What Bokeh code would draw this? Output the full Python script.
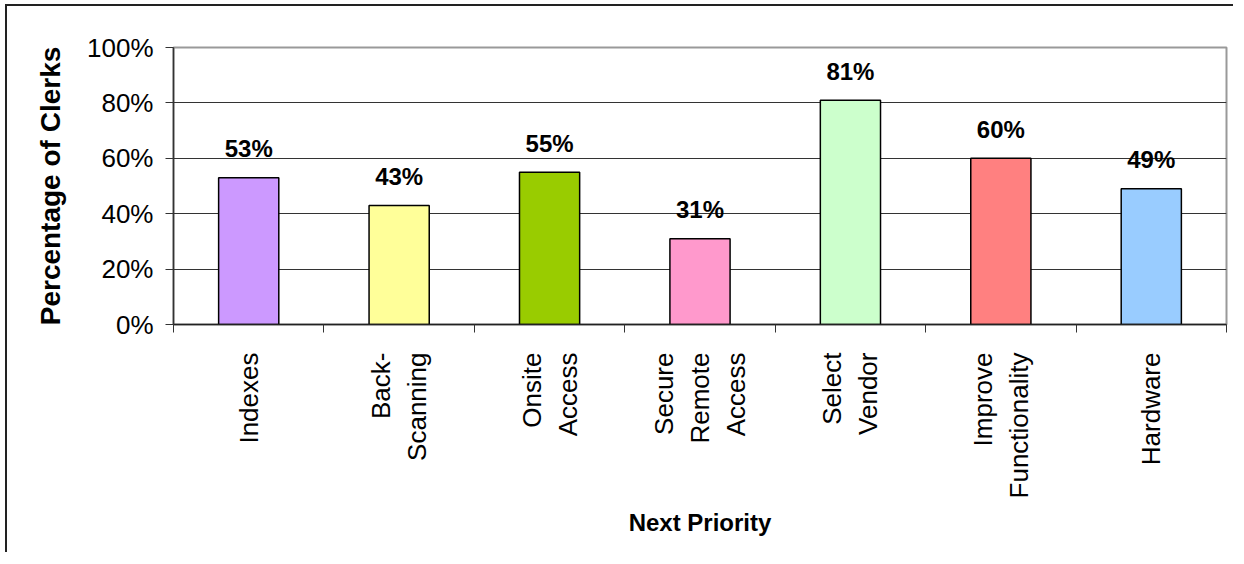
import math
from bokeh.plotting import figure
from bokeh.models import ColumnDataSource, FixedTicker, NumeralTickFormatter, Range1d
from bokeh.core.properties import value
from bokeh.embed import file_html
from bokeh.resources import INLINE

# ---- data ----
categories = ["Indexes", "Back-\nScanning", "Onsite\nAccess", "Secure\nRemote\nAccess",
              "Select\nVendor", "Improve\nFunctionality", "Hardware"]
values = [0.53, 0.43, 0.55, 0.31, 0.81, 0.60, 0.49]
bar_colors = ["#CC99FF", "#FFFF99", "#99CC00", "#FF99CC", "#CCFFCC", "#FF8080", "#99CCFF"]
y_ticks = [0.0, 0.2, 0.4, 0.6, 0.8, 1.0]
x_title = "Next Priority"
y_title = "Percentage of Clerks"

FONT = "Liberation Sans"

n = len(categories)
centers = [i + 0.5 for i in range(n)]
bounds = list(range(n + 1))

src = ColumnDataSource(dict(
    x=centers,
    top=values,
    color=bar_colors,
    label=[f"{round(v * 100)}%" for v in values],
))

p = figure(width=1228, height=548,
           x_range=Range1d(0, n), y_range=Range1d(y_ticks[0], y_ticks[-1]),
           output_backend="svg", toolbar_location=None,
           min_border_left=166, min_border_top=41, min_border_right=9, min_border_bottom=230,
           background_fill_color="white", border_fill_color="white")

p.vbar(x="x", top="top", bottom=0, width=0.4, fill_color="color",
       line_color="black", line_width=1.5, source=src)

p.text(x="x", y="top", text="label", y_offset=-29,
       text_align="center", text_baseline="alphabetic",
       text_font=value(FONT), text_font_style="bold", text_font_size="24px",
       text_color="black", source=src)

# outline of plot area
p.outline_line_color = "#999999"
p.outline_line_width = 2

# x axis
xa = p.xaxis[0]
xa.ticker = FixedTicker(ticks=centers, minor_ticks=bounds)
xa.major_label_overrides = {c: lab for c, lab in zip(centers, categories)}
xa.major_label_orientation = math.pi / 2
xa.major_tick_line_color = None
xa.major_tick_out = 0
xa.major_tick_in = 0
xa.minor_tick_out = 8
xa.minor_tick_in = 0
xa.minor_tick_line_color = "#333333"
xa.minor_tick_line_width = 1
xa.axis_line_color = "#222222"
xa.axis_line_width = 1.5
xa.major_label_standoff = 20
xa.major_label_text_font = FONT
xa.major_label_text_font_size = "26px"
xa.major_label_text_color = "black"
xa.axis_label = x_title
xa.axis_label_text_font = FONT
xa.axis_label_text_font_style = "bold"
xa.axis_label_text_font_size = "24px"
xa.axis_label_text_color = "black"
xa.axis_label_standoff = 8

# y axis
ya = p.yaxis[0]
ya.ticker = FixedTicker(ticks=y_ticks)
ya.formatter = NumeralTickFormatter(format="0%")
ya.major_tick_out = 8
ya.major_tick_in = 0
ya.minor_tick_line_color = None
ya.major_tick_line_color = "#333333"
ya.axis_line_color = "#333333"
ya.axis_line_width = 1.5
ya.major_label_standoff = 12
ya.major_label_text_font = FONT
ya.major_label_text_font_size = "26px"
ya.major_label_text_color = "black"
ya.axis_label = y_title
ya.axis_label_text_font = FONT
ya.axis_label_text_font_style = "bold"
ya.axis_label_text_font_size = "28px"
ya.axis_label_text_color = "black"
ya.axis_label_standoff = 18

p.xgrid.visible = False
p.ygrid.ticker = FixedTicker(ticks=y_ticks[1:-1])
p.ygrid.grid_line_color = "#333333"
p.ygrid.grid_line_width = 1

p.styles = {"border-top": "2px solid #222222", "border-left": "2px solid #222222",
            "margin-left": "5px", "margin-top": "4px"}

open("out.html", "w").write(file_html(p, INLINE))
